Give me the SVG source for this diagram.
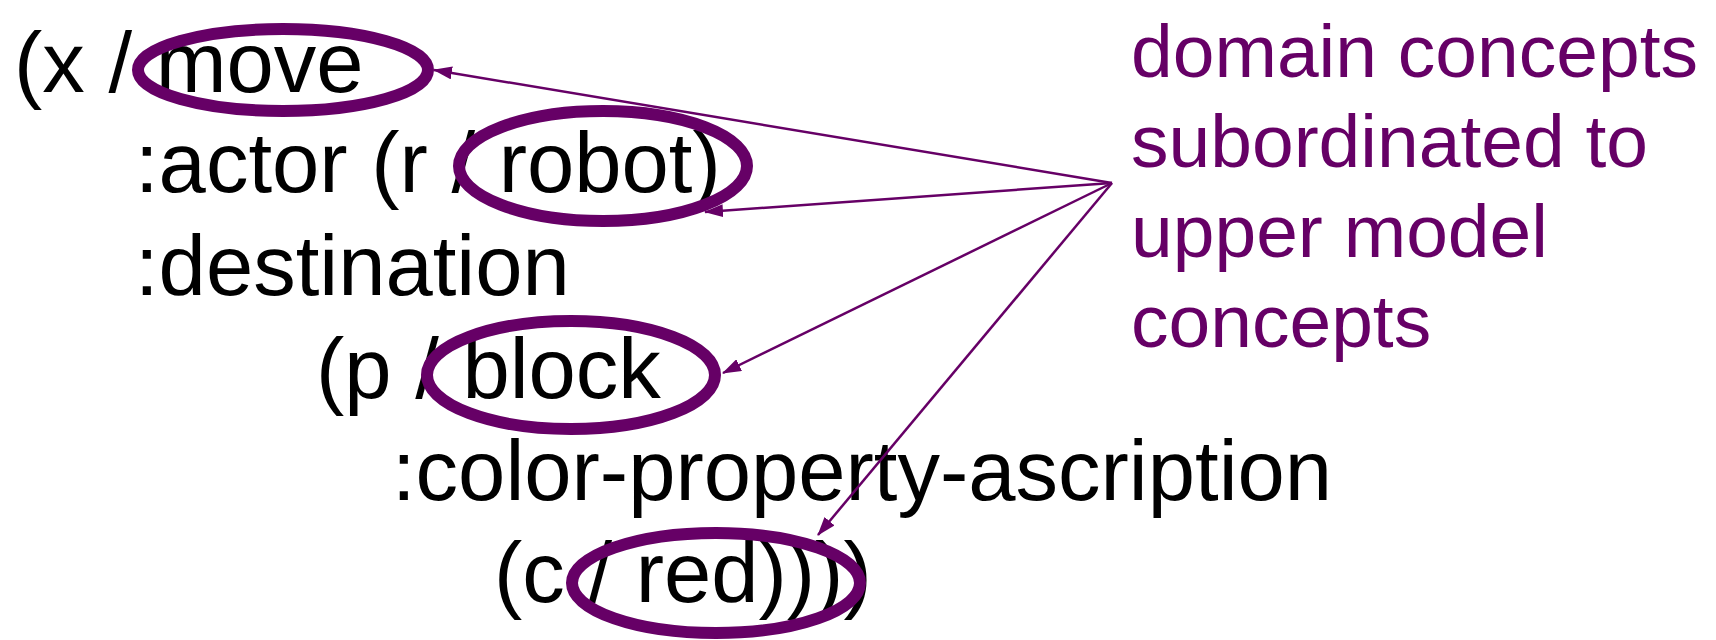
<svg xmlns="http://www.w3.org/2000/svg" width="1716" height="640" viewBox="0 0 1716 640">
  <style>
    .code { font-family: "Liberation Sans", Arial, sans-serif; font-size: 85px; fill: #000000; }
    .note { font-family: "Liberation Sans", Arial, sans-serif; font-size: 75px; fill: #660066; }
    .ring { fill: none; stroke: #660066; stroke-width: 12; }
    .link { fill: none; stroke: #660066; stroke-width: 2.5; marker-end: url(#tip); }
  </style>
  <defs>
    <marker id="tip" markerUnits="userSpaceOnUse" markerWidth="19" markerHeight="13" refX="18" refY="6.5" orient="auto">
      <path d="M0,0 L19,6.5 L0,13 z" fill="#660066"/>
    </marker>
  </defs>

  <rect width="1716" height="640" fill="#ffffff"/>

  <!-- SPL expression -->
  <g id="expression">
    <text class="code" x="14" y="92">(x / move</text>
    <text class="code" x="135" y="192">:actor (r / robot)</text>
    <text class="code" x="135" y="295">:destination</text>
    <text class="code" x="316" y="398">(p / block</text>
    <text class="code" x="392" y="500">:color-property-ascription</text>
    <text class="code" x="494" y="602">(c / red))))</text>
  </g>

  <!-- highlighted domain concepts -->
  <g id="move">
    <ellipse class="ring" cx="283" cy="70" rx="145" ry="41"/>
  </g>
  <g id="robot">
    <ellipse class="ring" cx="603" cy="166" rx="144" ry="55"/>
  </g>
  <g id="block">
    <ellipse class="ring" cx="571" cy="375" rx="144" ry="54"/>
  </g>
  <g id="red">
    <ellipse class="ring" cx="716" cy="583" rx="144" ry="50"/>
  </g>

  <!-- annotation -->
  <g id="note">
    <text class="note" x="1131" y="77">domain concepts</text>
    <text class="note" x="1131" y="167">subordinated to</text>
    <text class="note" x="1131" y="257">upper model</text>
    <text class="note" x="1131" y="347">concepts</text>
  </g>

  <!-- connectors from the annotation to each concept -->
  <g id="connectors">
    <line class="link" x1="1112" y1="183" x2="434" y2="70"/>
    <line class="link" x1="1112" y1="183" x2="705" y2="212"/>
    <line class="link" x1="1112" y1="183" x2="723" y2="373"/>
    <line class="link" x1="1112" y1="183" x2="818" y2="535"/>
  </g>
</svg>
